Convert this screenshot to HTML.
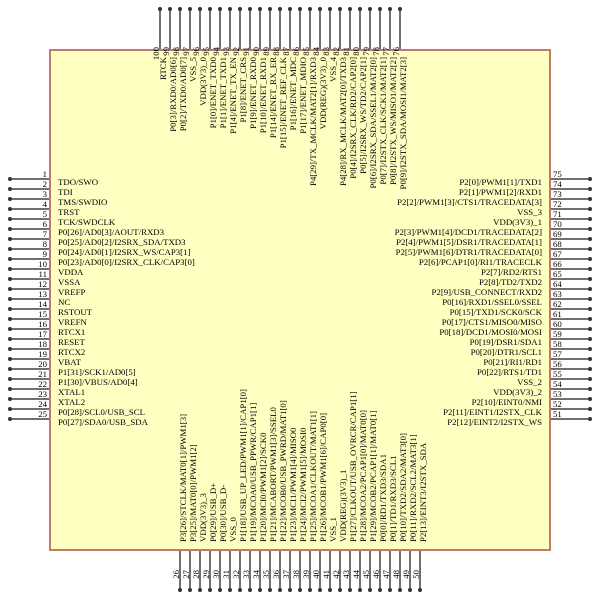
<!DOCTYPE html>
<html><head><meta charset="utf-8"><style>
html,body{margin:0;padding:0;background:#fff;}
svg{display:block;}
text{font-family:"Liberation Serif",serif;font-size:8.8px;fill:#000;}
</style></head><body>
<svg width="600" height="600" viewBox="0 0 600 600" xmlns="http://www.w3.org/2000/svg">
<rect x="50" y="50" width="500" height="500" fill="#ffffc2" stroke="#c07a6c" stroke-width="2"/>
<g stroke="#707070" stroke-width="2">
<path d="M10 179H49M10 189H49M10 199H49M10 209H49M10 219H49M10 229H49M10 239H49M10 249H49M10 259H49M10 269H49M10 279H49M10 289H49M10 299H49M10 309H49M10 319H49M10 329H49M10 339H49M10 349H49M10 359H49M10 369H49M10 379H49M10 389H49M10 399H49M10 409H49M10 419H49"/>
<path d="M551 179H590M551 189H590M551 199H590M551 209H590M551 219H590M551 229H590M551 239H590M551 249H590M551 259H590M551 269H590M551 279H590M551 289H590M551 299H590M551 309H590M551 319H590M551 329H590M551 339H590M551 349H590M551 359H590M551 369H590M551 379H590M551 389H590M551 399H590M551 409H590M551 419H590"/>
<path d="M160 9V49M170 9V49M180 9V49M190 9V49M200 9V49M210 9V49M220 9V49M230 9V49M240 9V49M250 9V49M260 9V49M270 9V49M280 9V49M290 9V49M300 9V49M310 9V49M320 9V49M330 9V49M340 9V49M350 9V49M360 9V49M370 9V49M380 9V49M390 9V49M400 9V49"/>
<path d="M180 551V590M190 551V590M200 551V590M210 551V590M220 551V590M230 551V590M240 551V590M250 551V590M260 551V590M270 551V590M280 551V590M290 551V590M300 551V590M310 551V590M320 551V590M330 551V590M340 551V590M350 551V590M360 551V590M370 551V590M380 551V590M390 551V590M400 551V590M410 551V590M420 551V590"/>
</g>
<g fill="#333">
<circle cx="10" cy="179" r="2"/><circle cx="10" cy="189" r="2"/><circle cx="10" cy="199" r="2"/><circle cx="10" cy="209" r="2"/><circle cx="10" cy="219" r="2"/><circle cx="10" cy="229" r="2"/><circle cx="10" cy="239" r="2"/><circle cx="10" cy="249" r="2"/><circle cx="10" cy="259" r="2"/><circle cx="10" cy="269" r="2"/><circle cx="10" cy="279" r="2"/><circle cx="10" cy="289" r="2"/><circle cx="10" cy="299" r="2"/><circle cx="10" cy="309" r="2"/><circle cx="10" cy="319" r="2"/><circle cx="10" cy="329" r="2"/><circle cx="10" cy="339" r="2"/><circle cx="10" cy="349" r="2"/><circle cx="10" cy="359" r="2"/><circle cx="10" cy="369" r="2"/><circle cx="10" cy="379" r="2"/><circle cx="10" cy="389" r="2"/><circle cx="10" cy="399" r="2"/><circle cx="10" cy="409" r="2"/><circle cx="10" cy="419" r="2"/>
<circle cx="590" cy="179" r="2"/><circle cx="590" cy="189" r="2"/><circle cx="590" cy="199" r="2"/><circle cx="590" cy="209" r="2"/><circle cx="590" cy="219" r="2"/><circle cx="590" cy="229" r="2"/><circle cx="590" cy="239" r="2"/><circle cx="590" cy="249" r="2"/><circle cx="590" cy="259" r="2"/><circle cx="590" cy="269" r="2"/><circle cx="590" cy="279" r="2"/><circle cx="590" cy="289" r="2"/><circle cx="590" cy="299" r="2"/><circle cx="590" cy="309" r="2"/><circle cx="590" cy="319" r="2"/><circle cx="590" cy="329" r="2"/><circle cx="590" cy="339" r="2"/><circle cx="590" cy="349" r="2"/><circle cx="590" cy="359" r="2"/><circle cx="590" cy="369" r="2"/><circle cx="590" cy="379" r="2"/><circle cx="590" cy="389" r="2"/><circle cx="590" cy="399" r="2"/><circle cx="590" cy="409" r="2"/><circle cx="590" cy="419" r="2"/>
<circle cx="160" cy="9" r="2"/><circle cx="170" cy="9" r="2"/><circle cx="180" cy="9" r="2"/><circle cx="190" cy="9" r="2"/><circle cx="200" cy="9" r="2"/><circle cx="210" cy="9" r="2"/><circle cx="220" cy="9" r="2"/><circle cx="230" cy="9" r="2"/><circle cx="240" cy="9" r="2"/><circle cx="250" cy="9" r="2"/><circle cx="260" cy="9" r="2"/><circle cx="270" cy="9" r="2"/><circle cx="280" cy="9" r="2"/><circle cx="290" cy="9" r="2"/><circle cx="300" cy="9" r="2"/><circle cx="310" cy="9" r="2"/><circle cx="320" cy="9" r="2"/><circle cx="330" cy="9" r="2"/><circle cx="340" cy="9" r="2"/><circle cx="350" cy="9" r="2"/><circle cx="360" cy="9" r="2"/><circle cx="370" cy="9" r="2"/><circle cx="380" cy="9" r="2"/><circle cx="390" cy="9" r="2"/><circle cx="400" cy="9" r="2"/>
<circle cx="180" cy="590" r="2"/><circle cx="190" cy="590" r="2"/><circle cx="200" cy="590" r="2"/><circle cx="210" cy="590" r="2"/><circle cx="220" cy="590" r="2"/><circle cx="230" cy="590" r="2"/><circle cx="240" cy="590" r="2"/><circle cx="250" cy="590" r="2"/><circle cx="260" cy="590" r="2"/><circle cx="270" cy="590" r="2"/><circle cx="280" cy="590" r="2"/><circle cx="290" cy="590" r="2"/><circle cx="300" cy="590" r="2"/><circle cx="310" cy="590" r="2"/><circle cx="320" cy="590" r="2"/><circle cx="330" cy="590" r="2"/><circle cx="340" cy="590" r="2"/><circle cx="350" cy="590" r="2"/><circle cx="360" cy="590" r="2"/><circle cx="370" cy="590" r="2"/><circle cx="380" cy="590" r="2"/><circle cx="390" cy="590" r="2"/><circle cx="400" cy="590" r="2"/><circle cx="410" cy="590" r="2"/><circle cx="420" cy="590" r="2"/>
</g>

<g text-anchor="end">
<text x="47" y="177">1</text><text x="47" y="187">2</text><text x="47" y="197">3</text><text x="47" y="207">4</text><text x="47" y="217">5</text><text x="47" y="227">6</text><text x="47" y="237">7</text><text x="47" y="247">8</text><text x="47" y="257">9</text><text x="47" y="267">10</text><text x="47" y="277">11</text><text x="47" y="287">12</text><text x="47" y="297">13</text><text x="47" y="307">14</text><text x="47" y="317">15</text><text x="47" y="327">16</text><text x="47" y="337">17</text><text x="47" y="347">18</text><text x="47" y="357">19</text><text x="47" y="367">20</text><text x="47" y="377">21</text><text x="47" y="387">22</text><text x="47" y="397">23</text><text x="47" y="407">24</text><text x="47" y="417">25</text>
</g>
<g>
<text x="58" y="185">TDO/SWO</text>
<text x="58" y="195">TDI</text>
<text x="58" y="205">TMS/SWDIO</text>
<text x="58" y="215">TRST</text>
<text x="58" y="225">TCK/SWDCLK</text>
<text x="58" y="235">P0[26]/AD0[3]/AOUT/RXD3</text>
<text x="58" y="245">P0[25]/AD0[2]/I2SRX_SDA/TXD3</text>
<text x="58" y="255">P0[24]/AD0[1]/I2SRX_WS/CAP3[1]</text>
<text x="58" y="265">P0[23]/AD0[0]/I2SRX_CLK/CAP3[0]</text>
<text x="58" y="275">VDDA</text>
<text x="58" y="285">VSSA</text>
<text x="58" y="295">VREFP</text>
<text x="58" y="305">NC</text>
<text x="58" y="315">RSTOUT</text>
<text x="58" y="325">VREFN</text>
<text x="58" y="335">RTCX1</text>
<text x="58" y="345">RESET</text>
<text x="58" y="355">RTCX2</text>
<text x="58" y="365">VBAT</text>
<text x="58" y="375">P1[31]/SCK1/AD0[5]</text>
<text x="58" y="385">P1[30]/VBUS/AD0[4]</text>
<text x="58" y="395">XTAL1</text>
<text x="58" y="405">XTAL2</text>
<text x="58" y="415">P0[28]/SCL0/USB_SCL</text>
<text x="58" y="425">P0[27]/SDA0/USB_SDA</text>
</g>

<g>
<text x="553" y="177">75</text><text x="553" y="187">74</text><text x="553" y="197">73</text><text x="553" y="207">72</text><text x="553" y="217">71</text><text x="553" y="227">70</text><text x="553" y="237">69</text><text x="553" y="247">68</text><text x="553" y="257">67</text><text x="553" y="267">66</text><text x="553" y="277">65</text><text x="553" y="287">64</text><text x="553" y="297">63</text><text x="553" y="307">62</text><text x="553" y="317">61</text><text x="553" y="327">60</text><text x="553" y="337">59</text><text x="553" y="347">58</text><text x="553" y="357">57</text><text x="553" y="367">56</text><text x="553" y="377">55</text><text x="553" y="387">54</text><text x="553" y="397">53</text><text x="553" y="407">52</text><text x="553" y="417">51</text>
</g>
<g text-anchor="end">
<text x="542" y="185">P2[0]/PWM1[1]/TXD1</text>
<text x="542" y="195">P2[1]/PWM1[2]/RXD1</text>
<text x="542" y="205">P2[2]/PWM1[3]/CTS1/TRACEDATA[3]</text>
<text x="542" y="215">VSS_3</text>
<text x="542" y="225">VDD(3V3)_1</text>
<text x="542" y="235">P2[3]/PWM1[4]/DCD1/TRACEDATA[2]</text>
<text x="542" y="245">P2[4]/PWM1[5]/DSR1/TRACEDATA[1]</text>
<text x="542" y="255">P2[5]/PWM1[6]/DTR1/TRACEDATA[0]</text>
<text x="542" y="265">P2[6]/PCAP1[0]/RI1/TRACECLK</text>
<text x="542" y="275">P2[7]/RD2/RTS1</text>
<text x="542" y="285">P2[8]/TD2/TXD2</text>
<text x="542" y="295">P2[9]/USB_CONNECT/RXD2</text>
<text x="542" y="305">P0[16]/RXD1/SSEL0/SSEL</text>
<text x="542" y="315">P0[15]/TXD1/SCK0/SCK</text>
<text x="542" y="325">P0[17]/CTS1/MISO0/MISO</text>
<text x="542" y="335">P0[18]/DCD1/MOSI0/MOSI</text>
<text x="542" y="345">P0[19]/DSR1/SDA1</text>
<text x="542" y="355">P0[20]/DTR1/SCL1</text>
<text x="542" y="365">P0[21]/RI1/RD1</text>
<text x="542" y="375">P0[22]/RTS1/TD1</text>
<text x="542" y="385">VSS_2</text>
<text x="542" y="395">VDD(3V3)_2</text>
<text x="542" y="405">P2[10]/EINT0/NMI</text>
<text x="542" y="415">P2[11]/EINT1/I2STX_CLK</text>
<text x="542" y="425">P2[12]/EINT2/I2STX_WS</text>
</g>

<g text-anchor="end">
<text x="159" y="47" transform="rotate(-90 159 47)">100</text>
<text x="169" y="47" transform="rotate(-90 169 47)">99</text>
<text x="179" y="47" transform="rotate(-90 179 47)">98</text>
<text x="189" y="47" transform="rotate(-90 189 47)">97</text>
<text x="199" y="47" transform="rotate(-90 199 47)">96</text>
<text x="209" y="47" transform="rotate(-90 209 47)">95</text>
<text x="219" y="47" transform="rotate(-90 219 47)">94</text>
<text x="229" y="47" transform="rotate(-90 229 47)">93</text>
<text x="239" y="47" transform="rotate(-90 239 47)">92</text>
<text x="249" y="47" transform="rotate(-90 249 47)">91</text>
<text x="259" y="47" transform="rotate(-90 259 47)">90</text>
<text x="269" y="47" transform="rotate(-90 269 47)">89</text>
<text x="279" y="47" transform="rotate(-90 279 47)">88</text>
<text x="289" y="47" transform="rotate(-90 289 47)">87</text>
<text x="299" y="47" transform="rotate(-90 299 47)">86</text>
<text x="309" y="47" transform="rotate(-90 309 47)">85</text>
<text x="319" y="47" transform="rotate(-90 319 47)">84</text>
<text x="329" y="47" transform="rotate(-90 329 47)">83</text>
<text x="339" y="47" transform="rotate(-90 339 47)">82</text>
<text x="349" y="47" transform="rotate(-90 349 47)">81</text>
<text x="359" y="47" transform="rotate(-90 359 47)">80</text>
<text x="369" y="47" transform="rotate(-90 369 47)">79</text>
<text x="379" y="47" transform="rotate(-90 379 47)">78</text>
<text x="389" y="47" transform="rotate(-90 389 47)">77</text>
<text x="399" y="47" transform="rotate(-90 399 47)">76</text>
</g>
<g text-anchor="end">
<text x="166" y="57" transform="rotate(-90 166 57)">RTCK</text>
<text x="176" y="57" transform="rotate(-90 176 57)">P0[3]/RXD0/AD0[6]</text>
<text x="186" y="57" transform="rotate(-90 186 57)">P0[2]/TXD0/AD0[7]</text>
<text x="196" y="57" transform="rotate(-90 196 57)">VSS_5</text>
<text x="206" y="57" transform="rotate(-90 206 57)">VDD(3V3)_0</text>
<text x="216" y="57" transform="rotate(-90 216 57)">P1[0]/ENET_TXD0</text>
<text x="226" y="57" transform="rotate(-90 226 57)">P1[1]/ENET_TXD1</text>
<text x="236" y="57" transform="rotate(-90 236 57)">P1[4]/ENET_TX_EN</text>
<text x="246" y="57" transform="rotate(-90 246 57)">P1[8]/ENET_CRS</text>
<text x="256" y="57" transform="rotate(-90 256 57)">P1[9]/ENET_RXD0</text>
<text x="266" y="57" transform="rotate(-90 266 57)">P1[10]/ENET_RXD1</text>
<text x="276" y="57" transform="rotate(-90 276 57)">P1[14]/ENET_RX_ER</text>
<text x="286" y="57" transform="rotate(-90 286 57)">P1[15]/ENET_REF_CLK</text>
<text x="296" y="57" transform="rotate(-90 296 57)">P1[16]/ENET_MDC</text>
<text x="306" y="57" transform="rotate(-90 306 57)">P1[17]/ENET_MDIO</text>
<text x="316" y="57" transform="rotate(-90 316 57)">P4[29]/TX_MCLK/MAT2[1]/RXD3</text>
<text x="326" y="57" transform="rotate(-90 326 57)">VDD(REG)(3V3)_0</text>
<text x="336" y="57" transform="rotate(-90 336 57)">VSS_4</text>
<text x="346" y="57" transform="rotate(-90 346 57)">P4[28]/RX_MCLK/MAT2[0]/TXD3</text>
<text x="356" y="57" transform="rotate(-90 356 57)">P0[4]/I2SRX_CLK/RD2/CAP2[0]</text>
<text x="366" y="57" transform="rotate(-90 366 57)">P0[5]/I2SRX_WS/TD2/CAP2[1]</text>
<text x="376" y="57" transform="rotate(-90 376 57)">P0[6]/I2SRX_SDA/SSEL1/MAT2[0]</text>
<text x="386" y="57" transform="rotate(-90 386 57)">P0[7]/I2STX_CLK/SCK1/MAT2[1]</text>
<text x="396" y="57" transform="rotate(-90 396 57)">P0[8]/I2STX_WS/MISO1/MAT2[2]</text>
<text x="406" y="57" transform="rotate(-90 406 57)">P0[9]/I2STX_SDA/MOSI1/MAT2[3]</text>
</g>

<g text-anchor="end">
<text x="179" y="570" transform="rotate(-90 179 570)">26</text>
<text x="189" y="570" transform="rotate(-90 189 570)">27</text>
<text x="199" y="570" transform="rotate(-90 199 570)">28</text>
<text x="209" y="570" transform="rotate(-90 209 570)">29</text>
<text x="219" y="570" transform="rotate(-90 219 570)">30</text>
<text x="229" y="570" transform="rotate(-90 229 570)">31</text>
<text x="239" y="570" transform="rotate(-90 239 570)">32</text>
<text x="249" y="570" transform="rotate(-90 249 570)">33</text>
<text x="259" y="570" transform="rotate(-90 259 570)">34</text>
<text x="269" y="570" transform="rotate(-90 269 570)">35</text>
<text x="279" y="570" transform="rotate(-90 279 570)">36</text>
<text x="289" y="570" transform="rotate(-90 289 570)">37</text>
<text x="299" y="570" transform="rotate(-90 299 570)">38</text>
<text x="309" y="570" transform="rotate(-90 309 570)">39</text>
<text x="319" y="570" transform="rotate(-90 319 570)">40</text>
<text x="329" y="570" transform="rotate(-90 329 570)">41</text>
<text x="339" y="570" transform="rotate(-90 339 570)">42</text>
<text x="349" y="570" transform="rotate(-90 349 570)">43</text>
<text x="359" y="570" transform="rotate(-90 359 570)">44</text>
<text x="369" y="570" transform="rotate(-90 369 570)">45</text>
<text x="379" y="570" transform="rotate(-90 379 570)">46</text>
<text x="389" y="570" transform="rotate(-90 389 570)">47</text>
<text x="399" y="570" transform="rotate(-90 399 570)">48</text>
<text x="409" y="570" transform="rotate(-90 409 570)">49</text>
<text x="419" y="570" transform="rotate(-90 419 570)">50</text>
</g>
<g>
<text x="186" y="542" transform="rotate(-90 186 542)">P3[26]/STCLK/MAT0[1]/PWM1[3]</text>
<text x="196" y="542" transform="rotate(-90 196 542)">P3[25]/MAT0[0]/PWM1[2]</text>
<text x="206" y="542" transform="rotate(-90 206 542)">VDD(3V3)_3</text>
<text x="216" y="542" transform="rotate(-90 216 542)">P0[29]/USB_D+</text>
<text x="226" y="542" transform="rotate(-90 226 542)">P0[30]/USB_D-</text>
<text x="236" y="542" transform="rotate(-90 236 542)">VSS_0</text>
<text x="246" y="542" transform="rotate(-90 246 542)">P1[18]/USB_UP_LED/PWM1[1]/CAP1[0]</text>
<text x="256" y="542" transform="rotate(-90 256 542)">P1[19]/MCOA0/USB_PPWR/CAP1[1]</text>
<text x="266" y="542" transform="rotate(-90 266 542)">P1[20]/MCI0/PWM1[2]/SCK0</text>
<text x="276" y="542" transform="rotate(-90 276 542)">P1[21]/MCABORT/PWM1[3]/SSEL0</text>
<text x="286" y="542" transform="rotate(-90 286 542)">P1[22]/MCOB0/USB_PWRD/MAT1[0]</text>
<text x="296" y="542" transform="rotate(-90 296 542)">P1[23]/MCI1/PWM1[4]/MISO0</text>
<text x="306" y="542" transform="rotate(-90 306 542)">P1[24]/MCI2/PWM1[5]/MOSI0</text>
<text x="316" y="542" transform="rotate(-90 316 542)">P1[25]/MCOA1/CLKOUT/MAT1[1]</text>
<text x="326" y="542" transform="rotate(-90 326 542)">P1[26]/MCOB1/PWM1[6]/CAP0[0]</text>
<text x="336" y="542" transform="rotate(-90 336 542)">VSS_1</text>
<text x="346" y="542" transform="rotate(-90 346 542)">VDD(REG)(3V3)_1</text>
<text x="356" y="542" transform="rotate(-90 356 542)">P1[27]/CLKOUT/USB_OVRCR/CAP1[1]</text>
<text x="366" y="542" transform="rotate(-90 366 542)">P1[28]/MCOA2/PCAP1[0]/MAT0[0]</text>
<text x="376" y="542" transform="rotate(-90 376 542)">P1[29]/MCOB2/PCAP1[1]/MAT0[1]</text>
<text x="386" y="542" transform="rotate(-90 386 542)">P0[0]/RD1/TXD3/SDA1</text>
<text x="396" y="542" transform="rotate(-90 396 542)">P0[1]/TD1/RXD3/SCL1</text>
<text x="406" y="542" transform="rotate(-90 406 542)">P0[10]/TXD2/SDA2/MAT3[0]</text>
<text x="416" y="542" transform="rotate(-90 416 542)">P0[11]/RXD2/SCL2/MAT3[1]</text>
<text x="426" y="542" transform="rotate(-90 426 542)">P2[13]/EINT3/I2STX_SDA</text>
</g>
</svg>
</body></html>
